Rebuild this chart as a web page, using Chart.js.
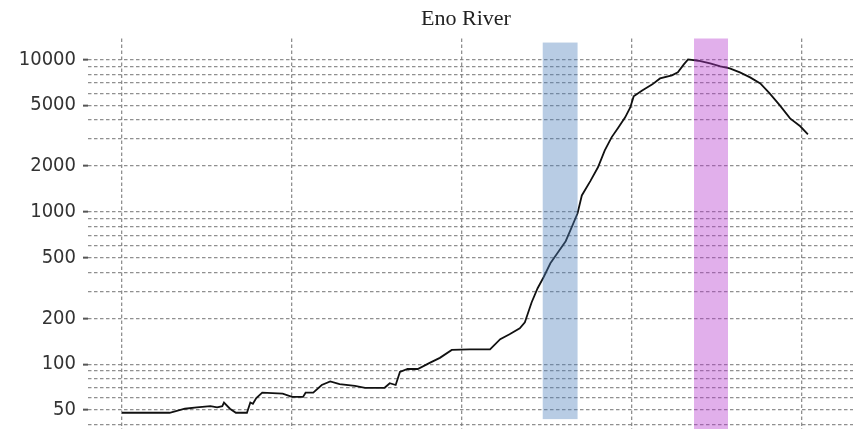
<!DOCTYPE html>
<html>
<head>
<meta charset="utf-8">
<title>Eno River</title>
<script src="https://cdn.jsdelivr.net/npm/chart.js@4.4.1/dist/chart.umd.min.js"></script>
<style>
  html, body { margin: 0; padding: 0; background: #fff; overflow: hidden; }
  #wrap { position: absolute; left: 0; top: 0; }
</style>
</head>
<body>
<div id="wrap"><canvas id="flowChart" width="932" height="440"></canvas></div>
<script>
// days since start of record, and discharge
const days = [0, 5.6, 7.4, 8.8, 10.4, 11.2, 11.8, 12, 12.7, 13.4,
  14.7, 15.1, 15.4, 15.8, 16.5, 18.9, 20, 21.3, 21.6, 22.5,
  23.5, 24.5, 25.6, 27.4, 28.6, 30.9, 31.5, 32.2, 32.7, 33.6,
  34.8, 36.2, 37.4, 38.8, 40.9, 43.3, 44.5, 45.6, 46.8, 47.4,
  47.8, 48.2, 48.9, 49.6, 50.4, 51.3, 52.2, 52.9, 53.6, 54.1,
  55.1, 56, 56.8, 57.6, 58.4, 59.2, 59.8, 60.2, 61.2, 62.4,
  63.3, 64.7, 65.4, 66.1, 66.6, 67.8, 69.2, 70.4, 71.5, 72.7,
  73.9, 75.1, 76.2, 77.4, 78.6, 79.8, 80.7];
const flow = [48, 48, 51, 52, 53, 52, 53, 56, 51, 48,
  48, 56, 55, 60, 65, 64, 61, 61, 65, 65,
  73, 77, 74, 72, 70, 70, 75, 73, 89, 93,
  93, 102, 110, 124, 125, 125, 146, 157, 172, 188,
  219, 255, 315, 372, 459, 542, 641, 791, 977, 1280,
  1590, 1960, 2530, 3080, 3580, 4170, 4840, 5720, 6260, 6860,
  7500, 7860, 8220, 9280, 10000, 9800, 9410, 9000, 8730, 8220,
  7620, 6960, 5990, 4990, 4100, 3640, 3220];

const xTicks = [0, 20, 40, 60, 80];
const yLabels = [50, 100, 200, 500, 1000, 2000, 5000, 10000];

// shaded periods: start day, end day, low, high
const bandStart = [49.5, 67.3];
const bandEnd = [53.6, 71.3];
const bandLow = [43.6, 20];
const bandHigh = [12900, 20000];
const bandColor = ['rgba(78, 128, 188, 0.4)', 'rgba(180, 55, 205, 0.4)'];

const bandsPlugin = {
  id: 'bands',
  afterDatasetsDraw(chart) {
    const { ctx, chartArea, scales } = chart;
    ctx.save();
    ctx.beginPath();
    ctx.rect(chartArea.left, chartArea.top, chartArea.right - chartArea.left, chartArea.bottom - chartArea.top);
    ctx.clip();
    bandStart.forEach((s, i) => {
      const x1 = scales.x.getPixelForValue(s);
      const x2 = scales.x.getPixelForValue(bandEnd[i]);
      const y1 = scales.y.getPixelForValue(bandHigh[i]);
      const y2 = scales.y.getPixelForValue(bandLow[i]);
      ctx.fillStyle = bandColor[i];
      ctx.fillRect(x1, y1, x2 - x1, y2 - y1);
    });
    ctx.restore();
  }
};

const gridColor = 'rgba(125, 125, 125, 0.85)';

new Chart(document.getElementById('flowChart'), {
  type: 'line',
  data: {
    datasets: [{
      label: 'Discharge',
      data: days.map((d, i) => ({ x: d, y: flow[i] })),
      borderColor: '#111',
      borderWidth: 1.8,
      pointRadius: 0,
      tension: 0,
    }],
  },
  options: {
    responsive: false,
    animation: false,
    layout: { padding: 0 },
    plugins: {
      legend: { display: false },
      tooltip: { enabled: false },
      title: {
        display: true,
        text: 'Eno River',
        color: '#222',
        font: { family: 'Liberation Serif', size: 22, weight: 'normal' },
        padding: { top: 6, bottom: 6 },
      },
    },
    scales: {
      x: {
        type: 'linear',
        min: -4,
        max: 95.3,
        afterBuildTicks: (scale) => { scale.ticks = xTicks.map(v => ({ value: v })); },
        ticks: { display: false },
        border: { display: false, dash: [3.5, 2.5] },
        grid: {
          color: gridColor,
          lineWidth: 1.3,
          drawTicks: false,
        },
      },
      y: {
        type: 'logarithmic',
        min: 31.8,
        max: 13735,
        afterBuildTicks: (scale) => {
          const t = [];
          for (let e = 1; e <= 4; e++) {
            for (let m = 1; m <= 9; m++) {
              const v = m * Math.pow(10, e);
              if (v >= scale.min && v <= scale.max) t.push({ value: v });
            }
          }
          scale.ticks = t;
        },
        afterFit: (scale) => {
          scale.width = 88;
          scale.paddingTop = 0;
          scale.paddingBottom = 0;
        },
        ticks: {
          autoSkip: false,
          padding: 7,
          color: '#333',
          font: { family: "'DejaVu Sans Condensed', 'DejaVu Sans'", size: 20 },
          callback: (v) => yLabels.includes(v) ? String(v) : '',
        },
        border: { display: false, dash: [3.5, 2.5] },
        grid: {
          color: gridColor,
          lineWidth: 1.3,
          tickLength: 5,
          tickBorderDash: [],
          tickWidth: 2,
          tickColor: (c) => (c.tick && yLabels.includes(c.tick.value)) ? '#555' : 'rgba(0,0,0,0)',
        },
      },
    },
  },
  plugins: [bandsPlugin],
});
</script>
</body>
</html>
